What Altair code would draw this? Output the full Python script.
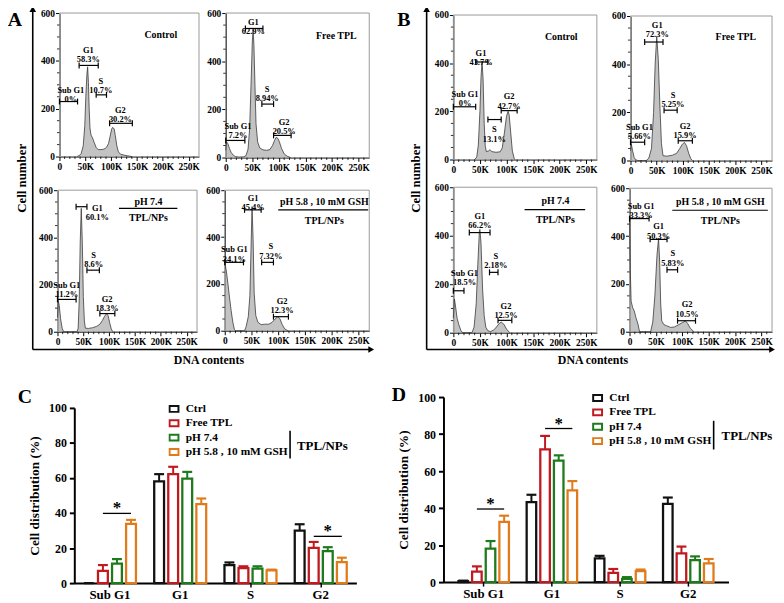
import altair as alt
import pandas as pd

FONT = "Liberation Serif"
FRAME = "#9a9a9a"
W, H = 776, 595          # drawing area inside the page margin
OX, OY = 5, 6            # figure coordinate -> drawing coordinate shift


def px(x):
    return x - OX


def py(y):
    return y - OY


# ---------------- histogram data (DNA content in K, cell count) ----------------
HIST_X_TICKS = [0, 50, 100, 150, 200, 250]
HIST_Y_TICKS = [0, 200, 400, 600]
HIST_X_MINOR = [10, 20, 30, 40, 60, 70, 80, 90, 110, 120, 130, 140, 160, 170, 180, 190,
                210, 220, 230, 240, 260]
HIST_Y_MINOR = [50, 100, 150, 250, 300, 350, 450, 500, 550]

a_control = [(34, 0), (38, 4), (42, 12), (46, 45), (49, 130), (51, 250), (53, 340), (54.5, 375),
             (56, 310), (57.5, 200), (59, 120), (61, 90), (64, 78), (67, 60), (71, 38), (75, 29),
             (80, 29), (86, 31), (91, 38), (95, 55), (98, 85), (101, 115), (103, 122), (106, 115),
             (108, 88), (111, 45), (114, 20), (118, 10), (125, 6), (132, 3), (140, 0)]
a_free = [(0, 30), (1.5, 65), (4, 58), (7, 38), (10, 22), (14, 10), (18, 4), (25, 2), (34, 3),
          (38, 8), (42, 35), (45, 120), (48, 330), (50, 480), (51.5, 530), (53, 470), (55, 300),
          (57, 140), (60, 65), (64, 40), (70, 32), (77, 30), (83, 33), (88, 50), (92, 72),
          (95, 84), (98, 80), (101, 65), (105, 38), (110, 15), (116, 5), (122, 0)]
a_ph74 = [(0, 60), (1.5, 132), (3.5, 110), (6, 55), (9, 15), (12, 0), (38, 0), (40, 15),
          (42, 130), (44, 380), (46, 523), (48, 380), (50, 150), (52, 45), (54, 15), (60, 14),
          (68, 17), (76, 23), (82, 32), (87, 48), (91, 65), (95, 77), (98, 68), (101, 38),
          (104, 12), (107, 0)]
a_ph58 = [(0, 292), (3, 255), (6, 200), (9, 140), (12, 85), (15, 38), (18, 6), (20, 0), (37, 0),
          (40, 18), (44, 60), (47, 150), (49, 340), (51, 530), (53, 390), (55, 160), (58, 65),
          (62, 36), (68, 26), (75, 28), (82, 28), (88, 35), (94, 50), (99, 60), (103, 52),
          (107, 28), (112, 8), (118, 0)]
b_control = [(40, 0), (44, 10), (47, 60), (50, 200), (52, 340), (54, 408), (56, 330), (58, 150),
             (60, 55), (62, 33), (66, 35), (69, 41), (72, 33), (80, 30), (88, 32), (92, 48),
             (96, 110), (100, 180), (103, 200), (105, 185), (108, 110), (111, 35), (115, 0)]
b_free = [(0, 40), (1.5, 69), (4, 40), (7, 12), (10, 3), (14, 0), (30, 0), (35, 10), (40, 50),
          (44, 200), (47, 400), (50, 515), (53, 420), (56, 230), (59, 70), (62, 20), (70, 18),
          (80, 22), (88, 30), (94, 50), (99, 68), (103, 75), (107, 60), (111, 30), (115, 8),
          (118, 0)]
b_ph74 = [(0, 60), (2, 139), (4, 110), (7, 60), (10, 35), (14, 10), (17, 0), (35, 0), (39, 23),
          (43, 120), (46, 280), (49, 420), (50, 426), (52, 370), (55, 180), (58, 70), (61, 23),
          (65, 8), (70, 5), (75, 10), (80, 20), (85, 35), (90, 44), (95, 35), (100, 15), (106, 0)]
b_ph58 = [(0, 473), (1, 300), (3, 128), (6, 100), (9, 87), (12, 60), (16, 32), (19, 0), (40, 0),
          (44, 40), (48, 150), (52, 320), (55, 390), (57, 300), (59, 120), (61, 45), (65, 30),
          (70, 25), (78, 18), (85, 20), (92, 28), (100, 38), (106, 45), (110, 35), (115, 15),
          (122, 0)]

# gates: (name, percent, x start, x end, gate level, label x, label y)
a_control_gates = [("Sub G1", "0%", 0, 35, 230, 22, 280), ("G1", "58.3%", 38, 75, 381, 56, 446),
                   ("S", "10.7%", 71, 91, 258, 80, 316), ("G2", "30.2%", 97, 141, 139, 118, 196)]
a_free_gates = [("Sub G1", "7.2%", 0, 36, 71, 23, 132), ("G1", "62.9%", 37, 70, 536, 52, 563),
                ("S", "8.94%", 68, 90, 222, 78, 285), ("G2", "20.5%", 90, 123, 92, 110, 148)]
a_ph74_gates = [("Sub G1", "11.2%", 0, 36, 137, 18, 198), ("G1", "60.1%", 36, 57, 530, 77, 525),
                ("S", "8.6%", 57, 81, 261, 70, 325), ("G2", "18.3%", 82, 111, 77, 96, 140)]
a_ph58_gates = [("Sub G1", "34.1%", 0, 35, 292, 18, 348), ("G1", "45.4%", 37, 68, 516, 53, 568),
                ("S", "7.32%", 69, 91, 292, 86, 360), ("G2", "12.3%", 91, 119, 60, 107, 128)]
b_control_gates = [("Sub G1", "0%", 0, 42, 219, 22, 273), ("G1", "43.7%", 42, 65, 405, 52, 444),
                   ("S", "13.1%", 65, 90, 166, 77, 126), ("G2", "42.7%", 90, 120, 203, 105, 263)]
b_free_gates = [("Sub G1", "5.66%", 0, 27, 76, 17, 140), ("G1", "72.3%", 27, 62, 492, 51, 563),
                ("S", "5.25%", 64, 89, 209, 81, 272), ("G2", "15.9%", 91, 118, 82, 104, 145)]
b_ph74_gates = [("Sub G1", "18.5%", 0, 20, 173, 21, 248), ("G1", "66.2%", 30, 69, 413, 50, 482),
                ("S", "2.18%", 68, 84, 249, 80, 318), ("G2", "12.5%", 84, 110, 51, 99, 112)]
b_ph58_gates = [("Sub G1", "33.3%", 0, 37, 473, 22, 526), ("G1", "50.3%", 39, 71, 386, 55, 440),
                ("S", "5.83%", 71, 91, 259, 82, 327), ("G2", "10.5%", 91, 125, 46, 109, 114)]

# panel titles: (text, x, y) and divider line (x start, x end, y)
a_control_titles = [("Control", 196, 509)]
a_free_titles = [("Free TPL", 208, 504)]
a_ph74_titles = [("pH 7.4", 176, 550), ("TPL/NPs", 176, 481)]
a_ph74_divider = (119, 232, 523)
a_ph58_titles = [("pH 5.8 , 10 mM GSH", 186, 551), ("TPL/NPs", 186, 467)]
a_ph58_divider = (100, 268, 516)
b_control_titles = [("Control", 203, 507)]
b_free_titles = [("Free TPL", 201, 511)]
b_ph74_titles = [("pH 7.4", 192, 542), ("TPL/NPs", 192, 463)]
b_ph74_divider = (134, 248, 508)
b_ph58_titles = [("pH 5.8 , 10 mM GSH", 172, 542), ("TPL/NPs", 172, 462)]
b_ph58_divider = (81, 262, 508)

# ---------------- bar chart data ----------------
PHASES = ["Sub G1", "G1", "S", "G2"]
GROUPS = ["Ctrl", "Free TPL", "pH 7.4", "pH 5.8 , 10 mM GSH"]
COLORS = ["#111111", "#c0191f", "#1d7a1d", "#e07b1b"]

c_ctrl = [0, 58.1, 10.3, 29.9]
c_free = [7.0, 62.2, 8.6, 20.1]
c_ph74 = [11.1, 59.6, 8.3, 18.2]
c_ph58 = [33.8, 45.1, 7.3, 12.0]
c_ctrl_err = [0, 4.1, 1.5, 3.7]
c_free_err = [3.3, 4.2, 1.0, 3.4]
c_ph74_err = [2.6, 3.9, 1.3, 2.3]
c_ph58_err = [2.3, 3.2, 0.4, 2.5]
c_sig = [("Sub G1", 39.8), ("G2", 26.7)]

d_ctrl = [0.5, 43.2, 12.8, 42.3]
d_free = [5.7, 71.7, 5.0, 15.5]
d_ph74 = [18.1, 65.7, 1.8, 11.9]
d_ph58 = [32.6, 49.6, 5.9, 10.1]
d_ctrl_err = [0.3, 4.0, 1.4, 3.4]
d_free_err = [2.8, 7.3, 2.1, 3.7]
d_ph74_err = [4.1, 2.8, 0.9, 2.0]
d_ph58_err = [3.3, 5.0, 0.9, 2.4]
d_sig = [("Sub G1", 39.5), ("G1", 83.0)]

ONE = pd.DataFrame({"k": [0]})


def vtext(txt, x, y, size, angle=0, align="center", baseline="middle"):
    return alt.Chart(ONE).mark_text(text=txt, font=FONT, fontWeight="bold", fontSize=size,
                                    color="black", angle=angle, align=align, baseline=baseline
                                    ).encode(x=alt.value(px(x)), y=alt.value(py(y)))


def vrule(x1, y1, x2, y2, width=1.5):
    return alt.Chart(ONE).mark_rule(color="black", strokeWidth=width).encode(
        x=alt.value(px(x1)), y=alt.value(py(y1)), x2=alt.value(px(x2)), y2=alt.value(py(y2)))


def arrow(x, y, shape):
    return alt.Chart(ONE).mark_point(shape=shape, size=45, filled=True, color="black",
                                     opacity=1).encode(x=alt.value(px(x)), y=alt.value(py(y)))


def histogram(trace, gates, titles, divider, box):
    x0, x1, yt, yb = box
    xs = alt.Scale(domain=[0, 270], range=[px(x0), px(x1)], nice=False, zero=False)
    ys = alt.Scale(domain=[0, 600], range=[py(yb), py(yt)], nice=False, zero=False)
    common = dict(grid=False, domainColor="black", domainWidth=1, tickColor="black",
                  tickSize=4, tickWidth=1, labelFont=FONT, labelFontSize=9.5,
                  labelFontWeight="bold", labelColor="black", labelPadding=1,
                  labelFlush=False, labelOverlap=False, title=None)
    xaxis = alt.Axis(values=HIST_X_TICKS, orient="bottom", offset=py(yb) - H,
                     labelExpr="datum.value == 0 ? '0' : datum.value + 'K'", **common)
    yaxis = alt.Axis(values=HIST_Y_TICKS, orient="left", offset=-px(x0), **common)

    def X(f):
        return alt.X(f, scale=xs, axis=xaxis)

    def Y(f):
        return alt.Y(f, scale=ys, axis=yaxis)

    frame = alt.Chart(pd.DataFrame({"f0": [0], "f1": [270], "g0": [0], "g1": [600]})).mark_rect(
        fill="transparent", stroke=FRAME, strokeWidth=1).encode(
        x=X("f0:Q"), x2="f1:Q", y=Y("g0:Q"), y2="g1:Q")
    tr = pd.DataFrame(trace, columns=["dna", "count"])
    area = alt.Chart(tr).mark_area(
        color="#a9a9a9", line={"color": "#3a3a3a", "strokeWidth": 0.8}
    ).encode(x=X("dna:Q"), y=Y("count:Q"))
    xm = alt.Chart(pd.DataFrame({"v": HIST_X_MINOR})).mark_rule(
        color="black", strokeWidth=0.8).encode(
        x=X("v:Q"), y=alt.value(py(yb)), y2=alt.value(py(yb) + 2.5))
    ym = alt.Chart(pd.DataFrame({"v": HIST_Y_MINOR})).mark_rule(
        color="black", strokeWidth=0.8).encode(
        y=Y("v:Q"), x=alt.value(px(x0)), x2=alt.value(px(x0) - 2.5))

    g = pd.DataFrame(gates, columns=["name", "pct", "x1", "x2", "gy", "lx", "ly"])
    g["label"] = g["name"] + "\n" + g["pct"]
    seg = alt.Chart(g).mark_rule(color="black", strokeWidth=1.2).encode(
        x=X("x1:Q"), x2="x2:Q", y=Y("gy:Q"))
    ends = pd.concat([g[["x1", "gy"]].rename(columns={"x1": "ex"}),
                      g[["x2", "gy"]].rename(columns={"x2": "ex"})])
    caps = alt.Chart(ends).mark_tick(orient="vertical", size=6, thickness=1.2,
                                     color="black", opacity=1).encode(x=X("ex:Q"), y=Y("gy:Q"))
    lab = alt.Chart(g).mark_text(font=FONT, fontWeight="bold", fontSize=8.5, lineBreak="\n",
                                 lineHeight=9.5, baseline="middle", color="black").encode(
        x=X("lx:Q"), y=Y("ly:Q"), text="label:N")
    t = pd.DataFrame(titles, columns=["txt", "tx", "ty"])
    ttl = alt.Chart(t).mark_text(font=FONT, fontWeight="bold", fontSize=10, color="black",
                                 baseline="middle").encode(x=X("tx:Q"), y=Y("ty:Q"), text="txt:N")
    layers = [frame, area, xm, ym, seg, caps, lab, ttl]
    if divider is not None:
        d = pd.DataFrame([divider], columns=["d1", "d2", "dy"])
        layers.append(alt.Chart(d).mark_rule(color="black", strokeWidth=1.2).encode(
            x=X("d1:Q"), x2="d2:Q", y=Y("dy:Q")))
    return alt.layer(*layers)


def bar_panel(vals, errs, sig, box, pad_outer, leg_xy):
    x0, x1, yt, yb = box
    rows = []
    for gname, v, e in zip(GROUPS, vals, errs):
        for p, vv, ee in zip(PHASES, v, e):
            rows.append({"phase": p, "group": gname, "value": vv, "top": vv + ee, "err": ee})
    df = pd.DataFrame(rows)
    xenc = alt.X("phase:N", sort=PHASES,
                 scale=alt.Scale(domain=PHASES, range=[px(x0), px(x1)], paddingInner=0.2,
                                 paddingOuter=pad_outer),
                 axis=alt.Axis(title=None, labelAngle=0, orient="bottom", offset=py(yb) - H,
                               domainColor="black", domainWidth=2, tickColor="black",
                               tickWidth=1.5, tickSize=4, labelFont=FONT, labelFontSize=13,
                               labelFontWeight="bold", labelColor="black", labelPadding=2,
                               grid=False))
    xoff = alt.XOffset("group:N", sort=GROUPS,
                       scale=alt.Scale(domain=GROUPS, paddingInner=0.3, paddingOuter=0.15))
    yscale = alt.Scale(domain=[0, 100], range=[py(yb), py(yt)], nice=False, zero=True)
    yaxis = alt.Axis(values=[0, 20, 40, 60, 80, 100], title="Cell distribution (%)",
                     orient="left", offset=-px(x0), grid=False, domainColor="black",
                     domainWidth=2, tickColor="black", tickWidth=2, tickSize=5, labelFont=FONT,
                     labelFontSize=12, labelFontWeight="bold", labelColor="black",
                     labelPadding=3, labelOverlap=False, titleFont=FONT, titleFontSize=13.5,
                     titleFontWeight="bold", titleColor="black", titlePadding=7)

    def Y(f):
        return alt.Y(f, scale=yscale, axis=yaxis)

    legend = alt.Legend(orient="none", legendX=px(leg_xy[0]), legendY=py(leg_xy[1]),
                        title=None, symbolType="M-1.2,-0.8L1.2,-0.8L1.2,0.8L-1.2,0.8Z",
                        symbolSize=56, symbolStrokeWidth=2.0, symbolFillColor="white",
                        labelFont=FONT, labelFontSize=11.5, labelFontWeight="bold",
                        labelColor="black", labelOffset=6, rowPadding=2.5, clipHeight=12,
                        labelLimit=300)
    stroke = alt.Stroke("group:N", scale=alt.Scale(domain=GROUPS, range=COLORS),
                        sort=GROUPS, legend=legend)
    edf = df[df.err > 0]
    stems = alt.Chart(edf).mark_rule(strokeWidth=2).encode(
        x=xenc, xOffset=xoff, y=Y("value:Q"), y2="top:Q", stroke=stroke)
    caps = alt.Chart(edf).mark_tick(orient="horizontal", size=8, thickness=0.2, filled=False,
                                    strokeWidth=2, opacity=1).encode(
        x=xenc, xOffset=xoff, y=Y("top:Q"), stroke=stroke)
    bars = alt.Chart(df).mark_bar(fill="white", strokeWidth=2.3).encode(
        x=xenc, xOffset=xoff, y=Y("value:Q"), stroke=stroke)
    srows = []
    for p, yv in sig:
        srows.append({"phase": p, "group": GROUPS[1], "sy": yv})
        srows.append({"phase": p, "group": GROUPS[3], "sy": yv})
    sdf = pd.DataFrame(srows)
    sline = alt.Chart(sdf).mark_line(color="black", strokeWidth=1.3).encode(
        x=xenc, xOffset=xoff, y=Y("sy:Q"), detail="phase:N")
    stdf = pd.DataFrame({"phase": [p for p, _ in sig], "group": GROUPS[2],
                         "sy": [yv for _, yv in sig]})
    star = alt.Chart(stdf).mark_text(text="*", font=FONT, fontWeight="bold", fontSize=17,
                                     dy=-5, color="black").encode(
        x=xenc, xOffset=xoff, y=Y("sy:Q"))
    return alt.layer(stems, caps, bars, sline, star)


hists = [
    histogram(a_control, a_control_gates, a_control_titles, None, (57, 198, 8, 153)),
    histogram(a_free, a_free_gates, a_free_titles, None, (225, 370, 8, 154)),
    histogram(a_ph74, a_ph74_gates, a_ph74_titles, a_ph74_divider, (55, 196, 187, 330)),
    histogram(a_ph58, a_ph58_gates, a_ph58_titles, a_ph58_divider, (224, 370, 187, 329)),
    histogram(b_control, b_control_gates, b_control_titles, None, (455, 600, 10, 156)),
    histogram(b_free, b_free_gates, b_free_titles, None, (634, 777, 11, 157)),
    histogram(b_ph74, b_ph74_gates, b_ph74_titles, b_ph74_divider, (455, 600, 184, 331)),
    histogram(b_ph58, b_ph58_gates, b_ph58_titles, b_ph58_divider, (633, 777, 185, 330)),
]

c_panel = bar_panel([c_ctrl, c_free, c_ph74, c_ph58],
                    [c_ctrl_err, c_free_err, c_ph74_err, c_ph58_err], c_sig,
                    (72, 357, 407, 584), 0.107, (167, 402))
d_panel = bar_panel([d_ctrl, d_free, d_ph74, d_ph58],
                    [d_ctrl_err, d_free_err, d_ph74_err, d_ph58_err], d_sig,
                    (445, 733, 396, 583), 0.19, (595, 391))

decor = [
    # panel A frame arrows and titles
    vtext("A", 12, 15, 20),
    vrule(30, 4, 30, 348, 1.6), arrow(30, 4, "triangle-up"),
    vrule(30, 348, 371, 348, 1.6), arrow(372, 348, "triangle-right"),
    vtext("Cell number", 19, 175, 13, angle=270),
    vtext("DNA contents", 208, 359, 12),
    # panel B
    vtext("B", 405, 15, 20),
    vrule(428, 4, 428, 348, 1.6), arrow(428, 4, "triangle-up"),
    vrule(428, 348, 776, 348, 1.6), arrow(777, 348, "triangle-right"),
    vtext("Cell number", 417, 175, 13, angle=270),
    vtext("DNA contents", 596, 359, 12),
    # panel C / D letters and TPL/NPs brackets
    vtext("C", 22, 396, 20),
    vrule(290, 430, 290, 458, 1.6),
    vtext("TPL/NPs", 297, 446, 13, align="left"),
    vtext("D", 400, 394, 20),
    vrule(718, 420, 718, 449, 1.6),
    vtext("TPL/NPs", 726, 435, 13, align="left"),
]

chart = alt.layer(*hists, c_panel, d_panel, *decor).resolve_scale(
    x="independent", y="independent", stroke="independent", xOffset="independent"
).resolve_axis(x="independent", y="independent").resolve_legend(
    stroke="independent"
).properties(
    width=W, height=H, autosize=alt.AutoSizeParams(type="none"), padding=0,
    background="white",
).configure_view(stroke="transparent")

chart.save("out.html", embed_options={"renderer": "svg", "actions": False})
